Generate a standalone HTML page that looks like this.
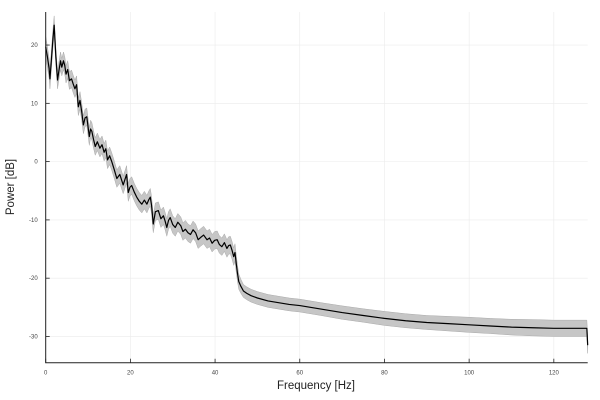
<!DOCTYPE html>
<html><head><meta charset="utf-8">
<style>
html,body{margin:0;padding:0;background:#fff;}
svg{display:block;font-family:"Liberation Sans","DejaVu Sans",sans-serif;}
</style></head>
<body>
<svg id="chart" width="600" height="400" viewBox="0 0 600 400">
<g id="grid"></g>
<g id="band"></g>
<g id="line"></g>
<g id="axes"></g>
<text x="316" y="389" font-size="11.5" text-anchor="middle" fill="#222">Frequency [Hz]</text>
<text x="14" y="187" font-size="11.5" text-anchor="middle" fill="#222" transform="rotate(-90 14 187)">Power [dB]</text>
</svg>
<script>
const freq = [0,0.4,0.8,1.0,1.3,1.7,2.0,2.4,2.8,3.1,
3.5,3.8,4.2,4.5,4.8,5.2,5.6,6.1,6.5,6.9,
7.3,7.7,8.1,8.5,8.9,9.3,9.7,10.0,10.3,10.6,
10.9,11.3,11.7,12.2,12.8,13.3,13.8,14.2,14.6,15.1,
15.6,16.2,16.8,17.5,18.3,18.7,19.1,19.5,19.9,20.3,
20.9,21.5,22.1,22.7,23.3,23.9,24.3,24.7,25.0,25.4,
25.9,26.6,27.2,27.8,28.2,28.6,29.0,29.4,30.0,30.6,
31.2,31.9,32.4,33.0,33.6,34.2,34.8,35.4,36.0,36.6,
37.3,38.1,38.7,39.3,39.9,40.5,41.0,41.6,42.2,42.8,
43.2,43.6,44.0,44.4,44.7,45.0,45.3,45.6,46.1,46.7,
47.5,48.5,50,52.5,55,57.5,60,65,70,75,
80,85,90,95,100,105,110,115,120,125,
127.8,128];
const power = [19.7,18,16,14.2,17,21,23.4,18,14,15.5,
17.3,16.2,17.3,16.5,15,15.8,13.9,14.2,13.3,12.5,
13.2,9.4,10.5,8.6,6.3,7.5,7.7,6,4.3,5.6,
5.2,3.8,2.6,3.4,2.3,2.9,1.6,2.2,0.3,1,
0,-1.4,-2.9,-2.2,-4,-3.1,-2.2,-5.3,-4.4,-4.1,
-5.2,-6.1,-6.8,-7.3,-6.6,-7.3,-6.6,-6.1,-7.5,-10.7,
-8.6,-8.4,-9.8,-9.3,-10.2,-11.3,-10.1,-9.6,-10.8,-11.3,
-10.4,-11,-12,-11.6,-12.2,-12.5,-11.7,-12.2,-13.4,-13,
-12.6,-13.4,-13.1,-14,-13.5,-13.4,-14.2,-14.6,-13.9,-14.9,
-14.4,-14.3,-15.2,-16.3,-15.6,-17.5,-19.2,-20.6,-21.4,-22.2,
-22.6,-23.0,-23.4,-23.9,-24.2,-24.5,-24.7,-25.3,-25.9,-26.4,
-26.9,-27.3,-27.6,-27.8,-28.0,-28.2,-28.4,-28.5,-28.6,-28.6,
-28.6,-31.5];
const halfWidth = [1.8,1.8,1.7,1.7,1.6,1.6,1.6,1.5,1.5,1.5,
1.5,1.5,1.5,1.5,1.5,1.5,1.5,1.5,1.5,1.5,
1.5,1.5,1.5,1.5,1.5,1.5,1.5,1.5,1.5,1.5,
1.5,1.5,1.5,1.5,1.5,1.5,1.5,1.5,1.5,1.5,
1.5,1.5,1.5,1.5,1.5,1.5,1.5,1.5,1.5,1.5,
1.5,1.5,1.5,1.5,1.5,1.5,1.5,1.5,1.5,1.5,
1.5,1.5,1.5,1.5,1.5,1.5,1.5,1.5,1.5,1.5,
1.5,1.5,1.5,1.5,1.5,1.5,1.5,1.5,1.5,1.5,
1.5,1.5,1.5,1.5,1.5,1.5,1.5,1.5,1.5,1.5,
1.5,1.5,1.5,1.5,1.5,1.5,1.4,1.3,1.2,1.1,
1.1,1.1,1.1,1.1,1.1,1.1,1.1,1.1,1.15,1.15,
1.2,1.2,1.2,1.25,1.3,1.3,1.35,1.4,1.4,1.4,
1.4,1.4];
const xTicks = [0,20,40,60,80,100,120];
const yTicks = [-30,-20,-10,0,10,20];

const X0=45.7, X1=587.7, Y0=12, Y1=362.7;
const xMin=0, xMax=128, yMax=25.67, yMin=-34.5;
const sx = v => X0 + (v-xMin)/(xMax-xMin)*(X1-X0);
const sy = v => Y0 + (yMax-v)/(yMax-yMin)*(Y1-Y0);
const hw = i => halfWidth[Math.min(i, halfWidth.length-1)];
const NS='http://www.w3.org/2000/svg';
function mk(tag, attrs, parent){const e=document.createElementNS(NS,tag);for(const k in attrs)e.setAttribute(k,attrs[k]);parent.appendChild(e);return e;}

const grid=document.getElementById('grid'), axes=document.getElementById('axes');
xTicks.forEach(t=>{
  const g=mk('line',{x1:sx(t),x2:sx(t),y1:Y0,y2:Y1,stroke:'#ebebeb','stroke-width':0.6},grid);
  
  
  const tk=mk('line',{x1:sx(t),x2:sx(t),y1:Y1,y2:Y1-4,stroke:'#222','stroke-width':0.8},axes);
  
  
  const lb=mk('text',{x:sx(t),y:Y1+12,'font-size':6,'text-anchor':'middle',fill:'#444'},axes);
  lb.textContent=t;
  
  
});
yTicks.forEach(t=>{
  const g=mk('line',{x1:X0,x2:X1,y1:sy(t),y2:sy(t),stroke:'#ebebeb','stroke-width':0.6},grid);
  
  
  const tk=mk('line',{x1:X0,x2:X0+4,y1:sy(t),y2:sy(t),stroke:'#222','stroke-width':0.8},axes);
  
  
  const lb=mk('text',{x:X0-8,y:sy(t)+2,'font-size':6,'text-anchor':'end',fill:'#444'},axes);
  lb.textContent=t;
  
  
});
const ax=mk('path',{d:`M${X0},${Y0}V${Y1}H${X1}`,fill:'none',stroke:'#222','stroke-width':1},axes);



const n=Math.min(freq.length,power.length);
let up='', lo='';
for(let i=0;i<n;i++){up+=(i?'L':'M')+sx(freq[i]).toFixed(2)+','+sy(power[i]+hw(i)).toFixed(2);}
for(let i=n-1;i>=0;i--){lo+='L'+sx(freq[i]).toFixed(2)+','+sy(power[i]-hw(i)).toFixed(2);}
const band=mk('path',{d:up+lo+'Z',fill:'#c6c6c6',stroke:'#aaa','stroke-width':0.5},document.getElementById('band'));


let ln='';
for(let i=0;i<n;i++){ln+=(i?'L':'M')+sx(freq[i]).toFixed(2)+','+sy(power[i]).toFixed(2);}
const line=mk('path',{d:ln,fill:'none',stroke:'#000','stroke-width':1.2,'stroke-linejoin':'round'},document.getElementById('line'));


</script>
</body></html>
